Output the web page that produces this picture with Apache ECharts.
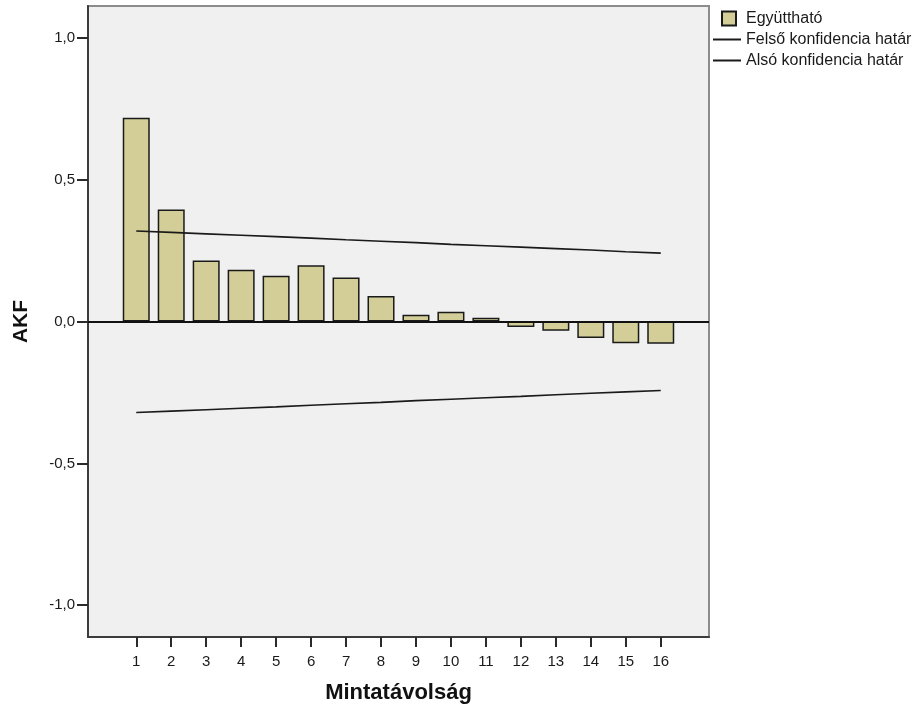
<!DOCTYPE html>
<html>
<head>
<meta charset="utf-8">
<script src="https://cdn.jsdelivr.net/npm/echarts@6/dist/echarts.min.js"></script>
<style>
html,body{margin:0;padding:0;background:#fff;}
#chart{width:920px;height:709px;}
</style>
</head>
<body>
<div id="chart"></div>
<script>
const lags = [1,2,3,4,5,6,7,8,9,10,11,12,13,14,15,16];
const acf = [0.718, 0.395, 0.215, 0.182, 0.161, 0.198, 0.155, 0.090, 0.024, 0.034, 0.013, -0.019, -0.033, -0.058, -0.077, -0.078];
const upperLimit = [0.319, 0.314, 0.309, 0.304, 0.299, 0.294, 0.288, 0.283, 0.278, 0.272, 0.267, 0.262, 0.257, 0.252, 0.246, 0.241];
const lowerLimit = [-0.321, -0.316, -0.311, -0.306, -0.301, -0.295, -0.290, -0.285, -0.279, -0.274, -0.269, -0.264, -0.258, -0.253, -0.248, -0.243];
const yTicks = [-1, -0.5, 0, 0.5, 1];
const seriesNames = ['Együttható', 'Felső konfidencia határ', 'Alsó konfidencia határ'];
const axisNames = { x: 'Mintatávolság', y: 'AKF' };

const FONT = '"Liberation Sans", Arial, sans-serif';
const chart = echarts.init(document.getElementById('chart'), null, { renderer: 'canvas' });

const pair = arr => lags.map((l, i) => [l, arr[i]]);

chart.setOption({
  animation: false,
  backgroundColor: '#ffffff',
  textStyle: { fontFamily: FONT },
  grid: {
    left: 88, top: 6, right: 211, bottom: 71,
    show: true, backgroundColor: '#f0f0f0',
    borderColor: '#8c8c8c', borderWidth: 2
  },
  legend: [
    {
      data: [{ name: seriesNames[0], icon: 'rect' }],
      orient: 'vertical', left: 721, top: 10, padding: 0,
      itemWidth: 14, itemHeight: 14,
      textStyle: { fontFamily: FONT, fontSize: 16, color: '#1a1a1a', lineHeight: 17, padding: [0, 0, 0, 5] }
    },
    {
      data: [{ name: seriesNames[1], icon: 'rect' }, { name: seriesNames[2], icon: 'rect' }],
      orient: 'vertical', left: 713, top: 31, padding: 0,
      itemWidth: 28, itemHeight: 2, itemGap: 4,
      textStyle: { fontFamily: FONT, fontSize: 16, color: '#1a1a1a', lineHeight: 17 }
    }
  ],
  xAxis: {
    type: 'value', min: -0.38, max: 17.38,
    name: axisNames.x, nameLocation: 'middle', nameGap: 45,
    nameTextStyle: { fontFamily: FONT, fontSize: 22, fontWeight: 'bold', color: '#111' },
    axisLine: { show: true, onZero: false, lineStyle: { color: '#3c3c3c', width: 2 } },
    axisTick: { show: true, customValues: lags, length: 10, lineStyle: { color: '#2a2a2a', width: 2 } },
    axisLabel: { customValues: lags, fontSize: 15, color: '#1a1a1a', margin: 17, fontFamily: FONT },
    splitLine: { show: false }
  },
  yAxis: {
    type: 'value', min: -1.112, max: 1.112,
    name: axisNames.y, nameLocation: 'middle', nameGap: 56, nameRotate: 90,
    nameTextStyle: { fontFamily: FONT, fontSize: 21, fontWeight: 'bold', color: '#111' },
    axisLine: { show: true, onZero: false, lineStyle: { color: '#3c3c3c', width: 2 } },
    axisTick: { show: true, customValues: yTicks, length: 11, lineStyle: { color: '#2a2a2a', width: 2 } },
    axisLabel: {
      customValues: yTicks, fontSize: 15, color: '#1a1a1a', margin: 13, fontFamily: FONT,
      formatter: v => v.toFixed(1).replace('.', ',')
    },
    splitLine: { show: false }
  },
  series: [
    {
      name: seriesNames[0], type: 'bar', data: pair(acf), barWidth: 27,
      itemStyle: { color: '#d3ce97', borderColor: '#1a1a1a', borderWidth: 1.5 },
      markLine: {
        silent: true, symbol: ['none', 'none'], label: { show: false },
        lineStyle: { color: '#111', width: 2, type: 'solid' },
        data: [{ yAxis: 0 }]
      },
      z: 2
    },
    {
      name: seriesNames[1], type: 'line', data: pair(upperLimit), symbol: 'none',
      lineStyle: { color: '#1a1a1a', width: 1.6 }, itemStyle: { color: '#1a1a1a' }, z: 3
    },
    {
      name: seriesNames[2], type: 'line', data: pair(lowerLimit), symbol: 'none',
      lineStyle: { color: '#1a1a1a', width: 1.6 }, itemStyle: { color: '#1a1a1a' }, z: 3
    }
  ]
});
</script>
</body>
</html>
